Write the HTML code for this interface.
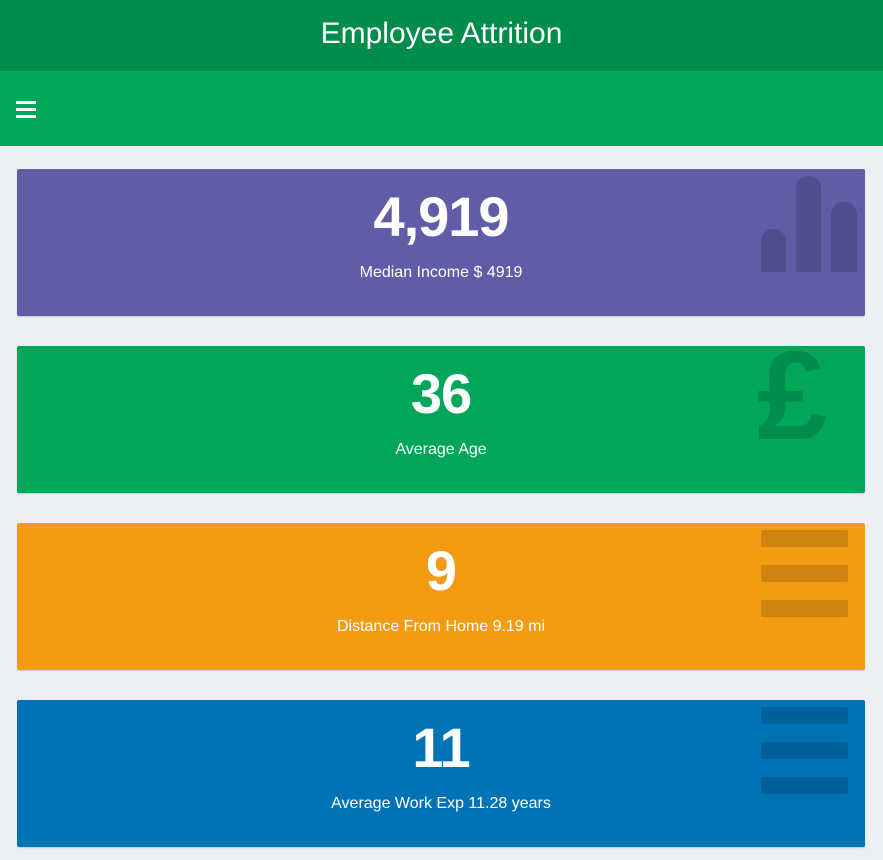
<!DOCTYPE html>
<html><head><meta charset="utf-8"><style>
body{margin:0;width:883px;height:860px;background:#ecf0f5;font-family:"Liberation Sans",sans-serif;overflow:hidden;position:relative}
.hdr{position:absolute;left:0;top:0;width:883px;height:71px;background:#008d4c;color:#fff;font-size:30px;text-align:center;line-height:68px}
.nav{position:absolute;left:0;top:71px;width:883px;height:75px;background:#00a65a}
.hb{position:absolute;left:16px;width:20px;height:3px;background:#fff}
.box{position:absolute;left:17px;width:848px;height:147px;border-radius:2px;box-shadow:0 1px 1px rgba(0,0,0,.15);color:#fff;overflow:hidden}
.num{position:absolute;left:0;right:0;top:15px;text-align:center;font-size:56px;font-weight:bold;line-height:66px;letter-spacing:-1px}
.lbl{position:absolute;left:0;right:0;top:95px;text-align:center;font-size:16px}
.ic{position:absolute;background:rgba(0,0,0,.15)}
</style></head><body>
<div class="hdr">Employee Attrition</div>
<div class="nav">
 <div style="position:absolute;left:0px;top:22px;width:42px;height:30px">
  <div class="hb" style="top:8px"></div><div class="hb" style="top:15px"></div><div class="hb" style="top:22px"></div>
 </div>
</div>
<div class="box" style="top:169px;background:#605ca8">
 <div class="ic" style="left:744px;top:60px;width:25px;height:43px;border-radius:12px 12px 0 0"></div>
 <div class="ic" style="left:779px;top:7px;width:25px;height:96px;border-radius:12px 12px 0 0"></div>
 <div class="ic" style="left:814px;top:33px;width:26px;height:70px;border-radius:12px 12px 0 0"></div>
 <div class="num">4,919</div>
 <div class="lbl">Median Income $ 4919</div>
</div>
<div class="box" style="top:346px;background:#00a65a">
 <div style="position:absolute;left:740px;top:-18px;font-size:126px;font-weight:bold;line-height:136px;color:rgba(0,0,0,.15)">£</div>
 <div class="num">36</div>
 <div class="lbl">Average Age</div>
</div>
<div class="box" style="top:523px;background:#f39c12">
 <div class="ic" style="left:744px;top:7px;width:87px;height:17px;border-radius:2px"></div>
 <div class="ic" style="left:744px;top:42px;width:87px;height:17px;border-radius:2px"></div>
 <div class="ic" style="left:744px;top:77px;width:87px;height:17px;border-radius:2px"></div>
 <div class="num">9</div>
 <div class="lbl">Distance From Home 9.19 mi</div>
</div>
<div class="box" style="top:700px;background:#0073b7">
 <div class="ic" style="left:744px;top:7px;width:87px;height:17px;border-radius:2px"></div>
 <div class="ic" style="left:744px;top:42px;width:87px;height:17px;border-radius:2px"></div>
 <div class="ic" style="left:744px;top:77px;width:87px;height:17px;border-radius:2px"></div>
 <div class="num">11</div>
 <div class="lbl">Average Work Exp 11.28 years</div>
</div>
</body></html>
